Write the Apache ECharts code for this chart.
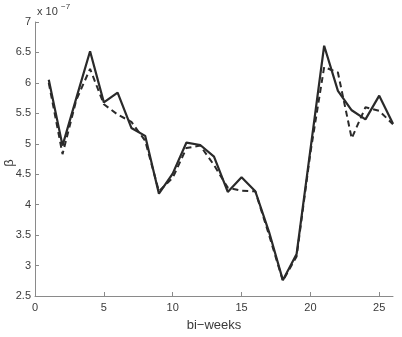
<!DOCTYPE html>
<html>
<head>
<meta charset="utf-8">
<script src="https://cdn.jsdelivr.net/npm/echarts@6/dist/echarts.min.js"></script>
<style>html,body{margin:0;padding:0;background:#fff}#c{width:402px;height:337px}</style>
</head>
<body>
<div id="c"></div>
<script>
// values in units of 1e-7
var weeks = [1,2,3,4,5,6,7,8,9,10,11,12,13,14,15,16,17,18,19,20,21,22,23,24,25,26];
var solidVals = [6.05,4.97,5.75,6.52,5.68,5.84,5.26,5.13,4.18,4.51,5.02,4.98,4.79,4.21,4.45,4.22,3.55,2.76,3.19,4.90,6.61,5.87,5.55,5.40,5.79,5.33];
var dashedVals = [6.00,4.83,5.72,6.23,5.65,5.48,5.36,5.05,4.22,4.44,4.93,4.97,4.65,4.28,4.23,4.22,3.50,2.75,3.15,4.85,6.26,6.17,5.09,5.60,5.54,5.32];
var xTicks = [0,5,10,15,20,25];
var yTicks = [2.5,3,3.5,4,4.5,5,5.5,6,6.5,7];

function pairs(xs, ys){ return xs.map(function(x,i){return [x, ys[i]];}); }

var chart = echarts.init(document.getElementById('c'), null, {renderer:'canvas'});
var axisCol = '#8a8a8a', txtCol = '#3a3a3a', font = 'Liberation Sans';
chart.setOption({
  animation:false,
  grid:{left:35, right:9, top:22, bottom:34, containLabel:false},
  xAxis:{
    type:'value', min:0, max:26,
    name:'bi\u2212weeks', nameLocation:'middle', nameGap:23,
    nameTextStyle:{color:txtCol, fontSize:13, fontFamily:font},
    axisLine:{show:true, onZero:false, lineStyle:{color:axisCol, width:1}},
    axisTick:{show:true, inside:true, length:4, customValues:xTicks, lineStyle:{color:axisCol}},
    axisLabel:{customValues:xTicks, color:txtCol, fontSize:11, fontFamily:font, margin:6},
    splitLine:{show:false}
  },
  yAxis:{
    type:'value', min:2.5, max:7,
    axisLine:{show:true, onZero:false, lineStyle:{color:axisCol, width:1}},
    axisTick:{show:true, inside:true, length:4, customValues:yTicks, lineStyle:{color:axisCol}},
    axisLabel:{customValues:yTicks, color:txtCol, fontSize:11, fontFamily:font, margin:4},
    splitLine:{show:false}
  },
  graphic:[
    {type:'text', left:37, top:6, style:{text:'x 10', fill:txtCol, font:'11px Liberation Sans'}},
    {type:'text', left:61, top:3, style:{text:'\u22127', fill:txtCol, font:'8px Liberation Sans'}},
    {type:'text', x:9, y:163, rotation:Math.PI/2, style:{text:'\u03b2', fill:txtCol, font:'13px Liberation Sans', align:'center', verticalAlign:'middle'}}
  ],
  series:[
    {type:'line', data:pairs(weeks, dashedVals), symbol:'none', lineStyle:{color:'#2a2a2a', width:2, type:[6,4]}},
    {type:'line', data:pairs(weeks, solidVals), symbol:'none', lineStyle:{color:'#2a2a2a', width:2.2}}
  ]
});
</script>
</body>
</html>
